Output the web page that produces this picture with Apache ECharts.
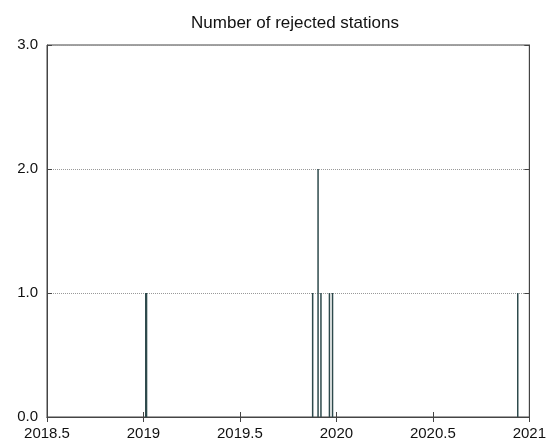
<!DOCTYPE html>
<html>
<head>
<meta charset="utf-8">
<script src="https://cdn.jsdelivr.net/npm/echarts@6/dist/echarts.min.js"></script>
<style>
  html, body { margin: 0; padding: 0; background: #fff; }
  #chart { width: 549px; height: 441px; }
</style>
</head>
<body>
<div id="chart"></div>
<script>
// Rejection events: decimal year of each event and number of stations rejected
const eventYears = [2019.012, 2019.014, 2019.016, 2019.877, 2019.905, 2019.920, 2019.964, 2019.980, 2020.940];
const rejectedCounts = [1, 1, 1, 1, 2, 1, 1, 1, 1];
const xTicks = [2018.5, 2019, 2019.5, 2020, 2020.5, 2021];
const yTicks = [0, 1, 2, 3];

const points = eventYears.map((t, i) => [t, rejectedCounts[i]]);

const fontFamily = '"Liberation Sans", Arial, sans-serif';
const frameColor = '#444';

const chart = echarts.init(document.getElementById('chart'));
chart.setOption({
  animation: false,
  title: {
    text: 'Number of rejected stations',
    left: 290, top: 10, textAlign: 'center',
    textStyle: { fontFamily, fontSize: 17, fontWeight: 'normal', color: '#111' }
  },
  grid: { left: 47, right: 17, top: 45, bottom: 24, show: true, borderColor: frameColor, borderWidth: 1 },
  xAxis: [{
    type: 'value', min: xTicks[0], max: xTicks[xTicks.length - 1], interval: 0.5,
    axisLine: { show: true, lineStyle: { color: frameColor } },
    axisTick: { show: true, inside: true, length: 5, lineStyle: { color: frameColor } },
    axisLabel: { fontFamily, fontSize: 15, color: '#111', margin: 9, formatter: v => String(v) },
    splitLine: { show: false }
  }, {
    type: 'value', position: 'top', min: xTicks[0], max: xTicks[xTicks.length - 1], interval: 0.5,
    axisLine: { show: true, lineStyle: { color: frameColor } },
    axisTick: { show: true, inside: true, length: 5, lineStyle: { color: frameColor } },
    axisLabel: { show: false },
    splitLine: { show: false }
  }],
  yAxis: [{
    type: 'value', min: yTicks[0], max: yTicks[yTicks.length - 1], interval: 1,
    axisLine: { show: true, lineStyle: { color: frameColor } },
    axisTick: { show: true, inside: true, length: 5, lineStyle: { color: frameColor } },
    axisLabel: { fontFamily, fontSize: 15, color: '#111', margin: 9, formatter: v => v.toFixed(1) },
    splitLine: { show: true, lineStyle: { color: '#999', type: [1, 1], width: 1 } }
  }, {
    type: 'value', position: 'right', min: yTicks[0], max: yTicks[yTicks.length - 1], interval: 1,
    axisLine: { show: true, lineStyle: { color: frameColor } },
    axisTick: { show: true, inside: true, length: 5, lineStyle: { color: frameColor } },
    axisLabel: { show: false },
    splitLine: { show: false }
  }],
  series: [{
    type: 'bar',
    xAxisIndex: 0, yAxisIndex: 0,
    data: points,
    barWidth: 1.5,
    barGap: '-100%',
    itemStyle: { color: '#2e4a4c' },
    z: 1
  }]
});
</script>
</body>
</html>
